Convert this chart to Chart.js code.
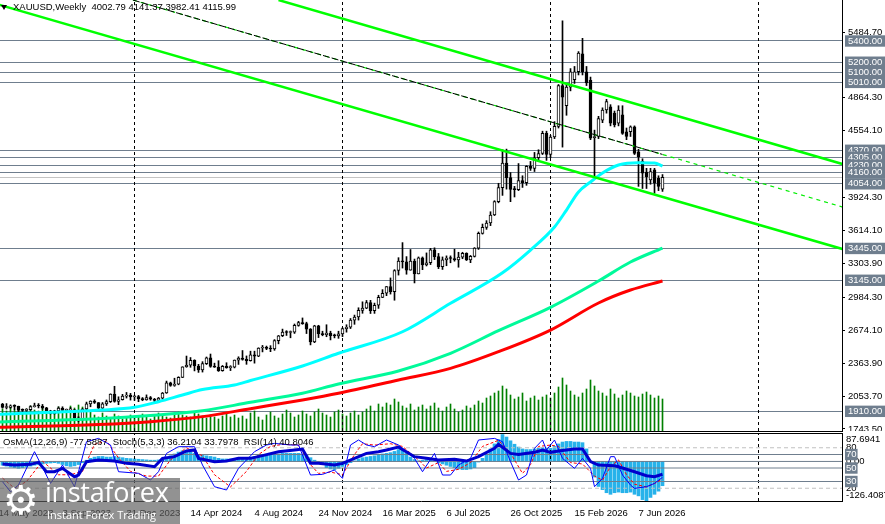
<!DOCTYPE html>
<html>
<head>
<meta charset="utf-8">
<title>XAUUSD Weekly</title>
<script src="https://cdn.jsdelivr.net/npm/chart.js@4.4.1/dist/chart.umd.min.js"></script>
<style>
  html, body { margin:0; padding:0; background:#fff; }
  body { width:885px; height:524px; position:relative; overflow:hidden; font-family:'Liberation Sans', Arial, sans-serif; }
  #c1 { position:absolute; left:0; top:0; }
  #c2 { position:absolute; left:0; top:434px; }
  .hline { position:absolute; left:0; width:843px; height:1px; background:#000; }
  #tri { position:absolute; left:1px; top:5px; width:0; height:0; border-left:3.5px solid transparent; border-right:3.5px solid transparent; border-top:5px solid #000; }
  #title { position:absolute; left:13px; top:1px; font-size:9.5px; line-height:12px; color:#000; white-space:pre; }
  #ind { position:absolute; left:3px; top:436px; font-size:9.5px; line-height:12px; color:#000; white-space:pre; }
  #logo { position:absolute; left:0; top:478px; width:180px; height:46px; background:rgba(95,95,95,0.68); color:#fff; }
  #logo .gear { position:absolute; left:3px; top:0; font-size:40px; line-height:44px; font-family:'DejaVu Sans', sans-serif; }
  #logo .brand { position:absolute; left:45px; top:-1px; font-size:27px; line-height:30px; font-family:'Open Sans', 'Noto Sans', sans-serif; letter-spacing:-0.3px; }
  #logo .tag { position:absolute; left:47px; top:30px; font-size:11px; line-height:13px; font-family:'Open Sans', 'Noto Sans', sans-serif; }
</style>
</head>
<body>
<canvas id="c1" width="885" height="431"></canvas>
<div class="hline" style="top:431px"></div>
<div class="hline" style="top:433px"></div>
<canvas id="c2" width="885" height="90"></canvas>
<div id="tri"></div>
<div id="title"></div>
<div id="ind">OsMA(12,26,9) -77.5887  Stoch(5,3,3) 36.2104 33.7978  RSI(14) 40.8046</div>
<div id="logo"><span class="gear">&#9881;</span><span class="brand">instaforex</span><span class="tag">Instant Forex Trading</span></div>
<script>
// ---------------- DATA (weekly bars, index 0 = week of 21 May 2023) ----------------
const OPEN = [
 1978,1946,1948,1961,1957,1921,1919,1925,1955,1962,
 1960,1943,1914,1889,1914,1940,1919,1924,1925,1848,
 1832,1932,1981,2006,1993,1940,1981,2001,2072,2004,
 2019,2053,2062,2045,2049,2029,2018,2039,2024,2013,
 2035,2083,2179,2155,2165,2230,2330,2344,2391,2337,
 2301,2360,2415,2334,2327,2293,2333,2322,2326,2392,
 2411,2400,2387,2443,2431,2507,2512,2503,2497,2577,
 2622,2658,2653,2656,2720,2747,2736,2685,2563,2716,
 2643,2633,2648,2622,2621,2640,2690,2702,2770,2799,
 2861,2883,2936,2858,2910,2984,3023,3085,3037,3237,
 3327,3319,3240,3325,3205,3357,3290,3310,3433,3368,
 3274,3337,3355,3350,3337,3363,3398,3336,3371,3448,
 3587,3643,3685,3760,3886,4018,4250,4113,4002,4000,
 4085,4065,4218,4198,4300,4340,4530,4330,4495,4595,
 4980,4790,4965,5035,5110,5280,5110,5030,4490,4500,
 4655,4750,4780,4720,4625,4705,4545,4545,4590,4355,
 4265,4165,4090,4185,4105,4002.79];
const HIGH = [
 1985,1983,1971,1972,1959,1933,1935,1963,1987,1983,
 1975,1948,1920,1920,1953,1953,1932,1947,1929,1860,
 1937,1997,2009,2019,1993,1993,2017,2075,2146,2047,
 2070,2088,2079,2062,2060,2040,2065,2050,2032,2041,
 2088,2195,2185,2222,2236,2330,2431,2417,2396,2353,
 2378,2422,2450,2364,2387,2342,2368,2340,2394,2424,
 2483,2432,2477,2477,2509,2531,2525,2529,2586,2625,
 2685,2670,2667,2733,2758,2790,2750,2690,2721,2721,
 2665,2726,2665,2638,2665,2697,2726,2785,2817,2886,
 2942,2955,2956,2930,3004,3057,3086,3167,3245,3358,
 3500,3368,3435,3345,3365,3365,3403,3446,3451,3398,
 3365,3375,3375,3438,3409,3409,3404,3379,3453,3600,
 3675,3707,3791,3895,4059,4375,4381,4160,4030,4245,
 4130,4225,4265,4350,4375,4550,4550,4510,4640,4990,
 5590,5000,5140,5160,5300,5425,5160,5060,4560,4690,
 4770,4850,4800,4740,4790,4790,4580,4600,4600,4380,
 4290,4200,4200,4200,4130,4141.37];
const LOW = [
 1940,1932,1939,1925,1910,1893,1902,1920,1950,1942,
 1929,1910,1885,1884,1912,1915,1906,1915,1846,1810,
 1823,1908,1953,1984,1931,1935,1965,1993,1996,1973,
 2016,2035,2016,2013,2001,2010,2015,2015,1984,2009,
 2024,2079,2146,2146,2160,2228,2325,2325,2291,2277,
 2280,2351,2325,2324,2286,2288,2316,2294,2319,2352,
 2392,2353,2383,2364,2425,2470,2491,2472,2485,2546,
 2614,2625,2603,2644,2712,2730,2643,2536,2557,2605,
 2622,2613,2583,2602,2598,2614,2656,2690,2730,2770,
 2834,2877,2832,2833,2880,2982,3000,3015,2957,3194,
 3260,3202,3240,3120,3205,3245,3280,3293,3340,3255,
 3247,3282,3310,3325,3268,3348,3331,3311,3364,3436,
 3580,3625,3660,3755,3875,3945,4004,3886,3930,3990,
 4020,4040,4180,4170,4270,4330,4275,4300,4480,4580,
 4400,4700,4930,5000,5080,5080,4980,4470,4105,4480,
 4630,4720,4600,4590,4600,4520,4470,4500,4330,4030,
 4010,4010,4050,3965,3990,3982.41];
const CLOSE = [
 1946,1948,1961,1957,1921,1919,1925,1955,1962,1960,
 1943,1914,1889,1914,1940,1919,1924,1925,1848,1832,
 1932,1981,2006,1993,1940,1981,2001,2072,2004,2019,
 2053,2062,2045,2049,2029,2018,2039,2024,2013,2035,
 2083,2179,2155,2165,2230,2330,2344,2391,2337,2301,
 2360,2415,2334,2327,2293,2333,2322,2326,2392,2411,
 2400,2387,2443,2431,2507,2512,2503,2497,2577,2622,
 2658,2653,2656,2720,2747,2736,2685,2563,2716,2643,
 2633,2648,2622,2621,2640,2690,2702,2770,2799,2861,
 2883,2936,2858,2910,2984,3023,3085,3037,3237,3327,
 3319,3240,3325,3205,3357,3290,3310,3433,3368,3274,
 3337,3355,3350,3337,3363,3398,3336,3371,3448,3587,
 3643,3685,3760,3886,4018,4250,4113,4002,4000,4085,
 4065,4218,4198,4300,4340,4530,4330,4495,4595,4980,
 4870,4965,5110,5110,5285,5110,5005,4485,4500,4670,
 4750,4830,4625,4610,4750,4530,4500,4590,4340,4310,
 4155,4120,4170,4060,4030,4115.99];
// tick volume (relative units)
const VOLUME = [
 22,20,24,21,23,19,22,25,21,20,23,22,18,20,24,22,21,25,23,26,24,22,20,
 16,14,18,15,13,17,15,12,14,16,13,15,17,14,12,15,18,16,14,13,17,19,16,15,14,18,17,15,13,16,14,12,15,17,14,16,13,15,
 12,18,20,14,11,16,19,15,13,17,21,18,14,16,20,17,15,19,22,18,16,14,19,21,17,15,18,20,16,19,
 22,25,20,27,24,28,26,32,29,25,23,27,21,24,26,22,25,28,23,20,24,27,22,19,21,25,23,26,
 30,28,33,35,38,40,45,42,36,32,34,38,30,33,35,31,34,36,33,38,44,53,46,40,36,34,38,42,51,45,40,38,35,42,37,33,36,40,38,35,34,37,39,36,33,35,32];
// moving averages sampled at bar index: [bar, price]
const MA_FAST = [[-1,1882],[25,1922],[33,1948],[39,2001],[45,2064],[50,2115],[58,2158],[62,2200],[75,2337],[84,2457],[100,2660],[112,2928],[125,3216],[132,3430],[138,3647],[141,3807],[144,3977],[147,4071],[150,4156],[154,4231],[159,4253],[163,4250],[165,4222]];
const MA_MID  = [[-1,1810],[24,1840],[37,1870],[50,1915],[62,1995],[75,2080],[84,2168],[99,2290],[112,2457],[124,2670],[137,2890],[149,3138],[157,3317],[165,3449]];
const MA_SLOW = [[-1,1759],[24,1785],[37,1812],[50,1860],[62,1935],[75,2017],[84,2080],[99,2205],[112,2315],[124,2472],[137,2676],[149,2931],[157,3053],[165,3138]];
// trend channel lines: [bar, price] end points
const TREND_UPPER = [[69,5786],[210,4241]];
const TREND_LOWER = [[-1,5743],[210,3440]];
const TREND_MID   = [[32.6,5786],[210,3836]];
const TREND_MID_SOLID = [[32.6,5786],[165,4331]];
// horizontal levels and price axis
const PRICE_TICKS = [5484.70, 4864.30, 4554.10, 3924.30, 3614.10, 3303.90, 2984.30, 2674.10, 2363.90, 2053.70, 1743.50];
const LEVELS = [5400, 5200, 5100, 5010, 4370, 4305, 4230, 4160, 4054, 3445, 3145, 1910];
const BID = 4115.99;
// time axis
const DATE_TICKS = [-1, 15, 31, 47, 63, 79, 95, 111, 127, 143, 159];
const DATE_LABELS = ['14 May 2023','3 Sep 2023','31 Dec 2023','14 Apr 2024','4 Aug 2024','24 Nov 2024','16 Mar 2025','6 Jul 2025','26 Oct 2025','15 Feb 2026','7 Jun 2026'];
const SEPARATORS = [33, 85, 137, 189];
// lower window indicators
const OSMA = [
 -12,-15,-18,-20,-22,-20,-18,-15,-12,
 -10,-8,-6,-5,-4,
 -6,-10,-14,-16,-14,-10,
 -4,4,10,14,16,
 16,14,14,16,14,12,
 10,9,8,7,6,5,4,4,5,
 8,14,18,24,30,34,34,30,26,22,20,18,16,
 14,10,8,8,8,10,12,12,12,14,
 16,18,18,18,20,22,24,26,26,26,26,26,24,20,
 12,4,-4,-10,-20,-24,-26,-22,-16,-10,
 -4,2,8,12,14,16,18,20,24,26,28,32,
 38,36,26,14,6,2,4,6,4,2,-4,-8,-12,
 -16,-20,-24,-26,-26,-24,-20,
 -2,10,24,40,56,70,86,
 78,66,55,46,40,38,38,40,42,44,42,
 42,48,56,62,64,64,62,62,60,
 40,0,-50,-80,-90,-100,-105,-100,-98,-100,-100,-98,-105,-110,-122,-126,-115,-105,-95,-77.5887];
const STOCH_MAIN = [[0,29.7],[2,14.9],[4,24.8],[8,74.2],[12,27.2],[15,54.4],[18,22.3],[21,89],[24,93.9],[27,84.1],[29,44.5],[34,42.1],[37,32.2],[39,44.5],[41,71.7],[44,81.6],[48,81.6],[50,54.4],[53,22.3],[56,17.4],[59,49.5],[63,74.2],[66,84.1],[68,86.5],[72,84.1],[74,84.1],[76,54.4],[77,39.6],[80,40.6],[83,47],[85,34.7],[87,84.1],[89,91.5],[91,84.1],[93,81.6],[96,91.5],[99,84.1],[103,64.3],[105,44.5],[108,71.7],[110,39.6],[112,39.6],[114,54.4],[117,64.3],[119,91.5],[123,93.9],[125,89],[127,59.4],[129,32.2],[131,39.6],[133,79.1],[135,91.5],[136,76.7],[138,91.5],[140,64.3],[143,49.5],[145,64.3],[147,49.5],[148,22.3],[150,34.7],[152,66.8],[153,66.8],[155,39.6],[157,24.8],[158,19.8],[161,22.3],[163,27.2],[165,36.2104]];
const STOCH_SIGNAL = [[0,35],[3,20],[6,30],[10,60],[14,40],[17,40],[20,45],[23,85],[26,90],[29,65],[32,45],[36,38],[39,38],[42,62],[46,80],[50,68],[53,40],[57,22],[61,45],[64,70],[67,82],[70,85],[74,84],[77,55],[79,42],[82,44],[85,40],[88,70],[90,86],[93,84],[97,86],[100,82],[104,62],[106,50],[109,58],[111,45],[114,48],[117,58],[120,82],[124,91],[127,72],[130,42],[132,55],[134,82],[137,84],[139,82],[142,58],[145,56],[148,38],[150,32],[152,52],[154,62],[156,40],[158,26],[161,22],[163,27],[165,33.7978]];
const RSI = [[0,55.9],[3,54.4],[7,55.4],[9,58.4],[11,44.5],[13,44.5],[15,49.5],[18,37.1],[19,39.6],[21,59.4],[24,61.8],[28,60.3],[31,56.9],[34,55.4],[38,51.9],[40,64.3],[43,66.8],[46,75.2],[48,76.7],[49,64.3],[53,59.4],[56,60.3],[59,64.3],[62,64.3],[65,68.3],[69,74.2],[73,76.7],[75,78.1],[77,56.9],[79,56.9],[83,54.4],[85,56.9],[88,64.3],[91,71.7],[94,74.2],[96,76.7],[99,81],[103,66.8],[106,64.3],[109,61.8],[113,62.8],[116,60.3],[119,66.8],[123,79.1],[124,85.1],[127,71.7],[129,70.2],[133,73.2],[135,76.7],[137,73.2],[139,75.2],[143,78.1],[145,78.1],[147,59.4],[149,54.4],[153,53.4],[154,51.9],[158,44.5],[161,38.6],[163,37.1],[165,40.8046]];
const STOCH_LEVELS_PLAIN = [80, 20];
const STOCH_LEVELS_BOXED = [70, 50, 30];

// ---------------- RENDER ----------------
const FONT = "'Liberation Sans', Arial, sans-serif";
const FS = 9.5;
const SLATE = '#6f7e8e';
const XMIN = -0.625, XMAX = 209.875;
const YMIN = 1724.65, YMAX = 5786.3;
const SMIN = 1.1, SMAX = 100.4;
const OSMA_MIN = -126.4087, OSMA_MAX = 87.6941;

Chart.defaults.font.family = FONT;
Chart.defaults.font.size = FS;

const N = OPEN.length;
document.getElementById('title').textContent =
  'XAUUSD,Weekly  ' + [OPEN[N-1], HIGH[N-1], LOW[N-1], CLOSE[N-1]].map(v => v.toFixed(2)).join(' ');

const K = OPEN.map((_, k) => k);
const pts = arr => arr.map(([x, y]) => ({x, y}));

function lineDS(data, color, width, order, extra) {
  return Object.assign({
    type: 'line', data, borderColor: color, borderWidth: width,
    pointRadius: 0, pointHoverRadius: 0, fill: false, tension: 0, order
  }, extra || {});
}
function sepDS(axis, lo, hi) {
  return SEPARATORS.map(k => lineDS([{x: k, y: lo}, {x: k, y: hi}], '#000', 1, 9, {yAxisID: axis, borderDash: [3, 3]}));
}

const common = {
  responsive: false, animation: false, events: [],
  layout: {padding: 0},
  plugins: {legend: {display: false}, tooltip: {enabled: false}, title: {display: false}}
};

const tv = c => (c && c.tick) ? c.tick.value : undefined;

// main price window
new Chart(document.getElementById('c1'), {
  type: 'bar',
  data: {
    datasets: [
      {type: 'bar', data: K.map(k => ({x: k, y: VOLUME[k]})), yAxisID: 'yv', backgroundColor: '#008000',
       borderWidth: 0, barThickness: 1, grouped: false, order: 10},
      ...sepDS('y', YMIN, YMAX),
      {type: 'bar', data: K.map(k => ({x: k, y: [LOW[k], HIGH[k]]})), yAxisID: 'y', backgroundColor: '#000',
       borderWidth: 0, barThickness: 1, grouped: false, order: 8},
      {type: 'bar', data: K.map(k => ({x: k, y: [OPEN[k], CLOSE[k]], up: CLOSE[k] >= OPEN[k]})), yAxisID: 'y',
       backgroundColor: c => (c.raw && c.raw.up) ? '#ffffff' : '#000000', borderColor: '#000', borderWidth: 1,
       borderSkipped: false, barThickness: 3, minBarLength: 1, grouped: false, order: 7},
      lineDS(pts(MA_SLOW), '#ff0000', 3, 6, {yAxisID: 'y', cubicInterpolationMode: 'monotone'}),
      lineDS(pts(MA_MID), '#00fa9a', 3, 5, {yAxisID: 'y', cubicInterpolationMode: 'monotone'}),
      lineDS(pts(MA_FAST), '#00ffff', 3, 4, {yAxisID: 'y', cubicInterpolationMode: 'monotone'}),
      lineDS(pts(TREND_UPPER), '#00ff00', 2.5, 3, {yAxisID: 'y'}),
      lineDS(pts(TREND_LOWER), '#00ff00', 2.5, 3, {yAxisID: 'y'}),
      lineDS(pts(TREND_MID), '#00ee00', 1.2, 3, {yAxisID: 'y', borderDash: [4, 4]}),
      lineDS(pts(TREND_MID_SOLID), '#000000', 1, 2, {yAxisID: 'y', borderDash: [7, 2]})
    ]
  },
  options: Object.assign({}, common, {
    scales: {
      x: {type: 'linear', min: XMIN, max: XMAX, display: false, offset: false, grid: {offset: false}},
      y: {
        type: 'linear', position: 'right', min: YMIN, max: YMAX, offset: false,
        afterBuildTicks: s => { s.ticks = [...PRICE_TICKS, BID, ...LEVELS].map(v => ({value: v})); },
        afterFit: s => { s.width = 43; s.paddingTop = 0; s.paddingBottom = 0; },
        ticks: {
          autoSkip: false, padding: 3, font: {family: FONT, size: FS},
          color: c => LEVELS.includes(tv(c)) ? '#ffffff' : '#000000',
          showLabelBackdrop: c => LEVELS.includes(tv(c)),
          backdropColor: SLATE,
          backdropPadding: {top: 0, bottom: 0, left: 3, right: 3},
          callback: v => v === BID ? '' : Number(v).toFixed(2)
        },
        grid: {
          drawOnChartArea: true, drawTicks: true, tickLength: 3, lineWidth: 1, offset: false,
          color: c => { const v = tv(c); return LEVELS.includes(v) ? SLATE : (v === BID ? '#c4c4c4' : 'rgba(0,0,0,0)'); },
          tickColor: c => PRICE_TICKS.includes(tv(c)) ? '#000' : 'rgba(0,0,0,0)'
        },
        border: {display: true, color: '#000', width: 1}
      },
      yv: {type: 'linear', display: false, min: 0, max: 431}
    }
  })
});

// lower indicator window
const osmaLabels = {
  id: 'osmaLabels',
  beforeDraw(chart) {
    const s = chart.scales.yo, ctx = chart.ctx;
    const x = chart.chartArea.right + 4;
    ctx.save();
    ctx.font = FS + 'px ' + FONT;
    ctx.fillStyle = '#000';
    ctx.textAlign = 'left';
    ctx.textBaseline = 'top';
    ctx.fillText(OSMA_MAX.toFixed(4), x, s.getPixelForValue(OSMA_MAX) + 1);
    ctx.textBaseline = 'middle';
    ctx.fillText((0).toFixed(2), x, s.getPixelForValue(0));
    ctx.textBaseline = 'bottom';
    ctx.fillText(OSMA_MIN.toFixed(4), x, s.getPixelForValue(OSMA_MIN) - 1);
    ctx.restore();
  }
};

const levelDS = [
  ...STOCH_LEVELS_PLAIN.map(v => lineDS([{x: XMIN, y: v}, {x: XMAX, y: v}], '#c0c0c0', 1, 8, {yAxisID: 'ys', borderDash: [4, 3]})),
  ...STOCH_LEVELS_BOXED.map(v => lineDS([{x: XMIN, y: v}, {x: XMAX, y: v}], SLATE, 1, 8, {yAxisID: 'ys'})),
  lineDS([{x: XMIN, y: 0}, {x: XMAX, y: 0}], SLATE, 1, 8, {yAxisID: 'yo'})
];

new Chart(document.getElementById('c2'), {
  type: 'bar',
  data: {
    datasets: [
      {type: 'bar', data: K.map(k => ({x: k, y: OSMA[k]})), yAxisID: 'yo', backgroundColor: '#27b2ea',
       borderWidth: 0, barThickness: 3, grouped: false, order: 10},
      ...levelDS,
      ...sepDS('ys', SMIN, SMAX),
      lineDS(pts(STOCH_SIGNAL), '#ff0000', 1, 3, {yAxisID: 'ys', borderDash: [3, 2]}),
      lineDS(pts(STOCH_MAIN), '#0000ff', 1, 2, {yAxisID: 'ys'}),
      lineDS(pts(RSI), '#0000cd', 3, 1, {yAxisID: 'ys'})
    ]
  },
  options: Object.assign({}, common, {
    scales: {
      x: {
        type: 'linear', min: XMIN, max: XMAX, offset: false, position: 'bottom',
        afterBuildTicks: s => { s.ticks = DATE_TICKS.map(v => ({value: v})); },
        afterFit: s => { s.height = 23; s.paddingLeft = 0; s.paddingRight = 0; },
        ticks: {autoSkip: false, maxRotation: 0, minRotation: 0, align: 'start', padding: 7, color: '#000',
                font: {family: FONT, size: FS}, callback: (v, i) => DATE_LABELS[i]},
        grid: {display: false, drawTicks: false, offset: false},
        border: {display: true, color: '#000', width: 1}
      },
      yo: {type: 'linear', display: false, min: OSMA_MIN, max: OSMA_MAX},
      ys: {
        type: 'linear', position: 'right', min: SMIN, max: SMAX,
        afterBuildTicks: s => { s.ticks = [...STOCH_LEVELS_PLAIN, ...STOCH_LEVELS_BOXED].map(v => ({value: v})); },
        afterFit: s => { s.width = 43; s.paddingTop = 0; s.paddingBottom = 0; },
        ticks: {
          autoSkip: false, padding: 4, font: {family: FONT, size: FS},
          color: c => STOCH_LEVELS_BOXED.includes(tv(c)) ? '#ffffff' : '#000000',
          showLabelBackdrop: c => STOCH_LEVELS_BOXED.includes(tv(c)),
          backdropColor: SLATE,
          backdropPadding: {top: 0, bottom: 0, left: 1, right: 1},
          callback: v => String(v)
        },
        grid: {display: false, drawTicks: false},
        border: {display: true, color: '#000', width: 1}
      }
    }
  }),
  plugins: [osmaLabels]
});
</script>
</body>
</html>
